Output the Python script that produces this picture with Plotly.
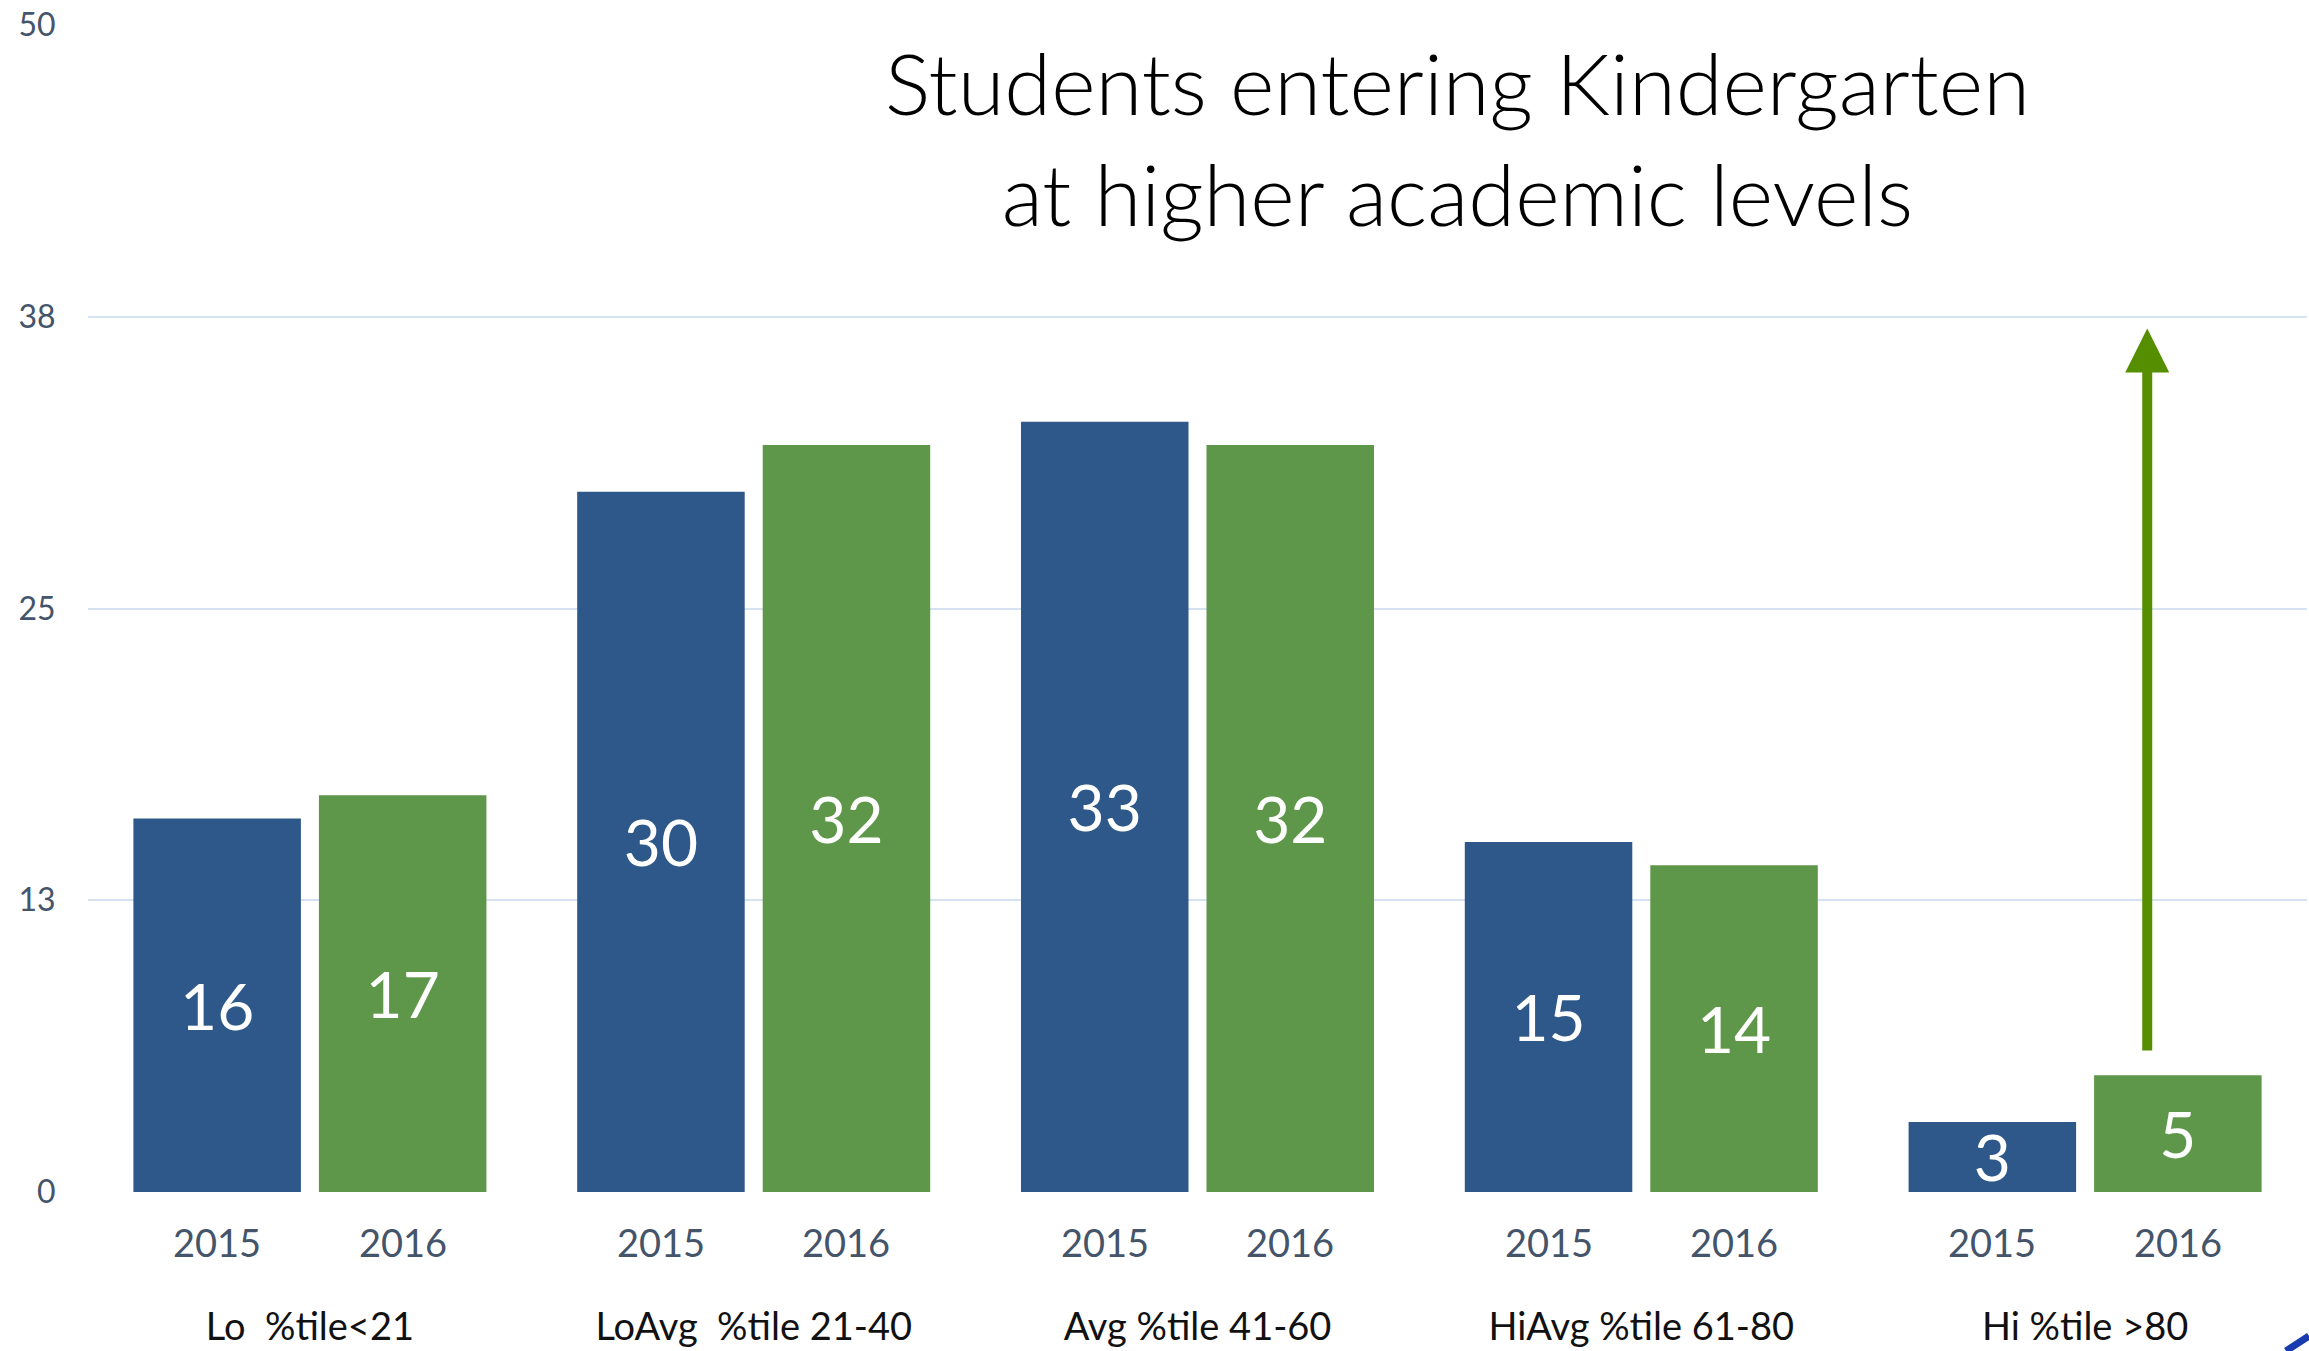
import plotly.graph_objects as go

categories = ["Lo  %tile<21", "LoAvg  %tile 21-40", "Avg %tile 41-60", "HiAvg %tile 61-80", "Hi %tile >80"]
years = ["2015", "2016"]
values_2015 = [16, 30, 33, 15, 3]
values_2016 = [17, 32, 32, 14, 5]
y_tickvals = [0, 12.5, 25, 37.5, 50]
y_ticktext = ["0", "13", "25", "38", "50"]
title_text = "Students entering Kindergarten<br>at higher academic levels"
arrow_from, arrow_to = 6.0, 37.0

BLUE = "#2E5889"
GREEN = "#5E9749"
ARROW = "#558F00"
AXIS_TXT = "#44546A"
FONT = "Lato"

idx = list(range(len(categories)))
fig = go.Figure()
for name, vals, col in [(years[0], values_2015, BLUE), (years[1], values_2016, GREEN)]:
    fig.add_trace(go.Bar(
        x=idx, y=vals, name=name, marker=dict(color=col, line=dict(width=0)),
        text=[str(v) for v in vals], textposition="inside", insidetextanchor="middle",
        constraintext="none", textangle=0,
        textfont=dict(family=FONT, size=64, color="white"),
        hoverinfo="skip",
    ))

bargap = 0.164
fig.update_layout(
    width=2309, height=1351,
    margin=dict(l=88, r=2, t=25, b=159),
    paper_bgcolor="white", plot_bgcolor="white",
    barmode="group", bargap=bargap, bargroupgap=0.097,
    showlegend=False,
    font=dict(family=FONT, color=AXIS_TXT),
)
fig.update_xaxes(
    tickmode="array", tickvals=idx, ticktext=categories,
    range=[-0.5, len(categories) - 0.5],
    showgrid=False, zeroline=False, showline=False, automargin=False,
    ticks="outside", ticklen=101, tickcolor="rgba(0,0,0,0)",
    tickfont=dict(family=FONT, size=38, color="#111111"),
)
fig.update_yaxes(
    range=[0, 50], tickmode="array", tickvals=y_tickvals, ticktext=y_ticktext,
    showgrid=True, gridcolor="#D5E2F2", gridwidth=2,
    zeroline=False, showline=False, automargin=False,
    ticks="outside", ticklen=25, tickcolor="rgba(0,0,0,0)",
    tickfont=dict(family=FONT, size=32, color=AXIS_TXT),
)

# year labels under each bar
plot_w = 2309 - 88 - 2
slot = plot_w / len(categories) * (1 - bargap) / 2
for i in idx:
    for j, yr in enumerate(years):
        fig.add_annotation(
            x=i, xref="x", y=-0.0428, yref="paper", text=yr, showarrow=False,
            xshift=(j - 0.5) * slot, yanchor="middle", xanchor="center",
            font=dict(family=FONT, size=38, color=AXIS_TXT),
        )

# title
fig.add_annotation(
    x=0.617, y=0.9036, xref="paper", yref="paper", text=title_text, showarrow=False,
    xanchor="center", yanchor="middle",
    font=dict(family=FONT, size=85, color="#000000", weight=300),
)

# green arrow
fig.add_annotation(
    x=4.14, y=arrow_to, xref="x", yref="y",
    ax=4.14, ay=arrow_from, axref="x", ayref="y",
    text="", showarrow=True, arrowhead=2, arrowsize=0.88, arrowwidth=10,
    arrowcolor=ARROW,
)

# small cropped blue stroke at bottom-right corner
fig.add_shape(type="line", xref="paper", yref="paper",
              x0=(2286 - 88) / plot_w, y0=(1192 - 1351) / 1167,
              x1=(2309 - 88) / plot_w, y1=(1192 - 1336) / 1167,
              line=dict(color="#1A3BB0", width=7))

fig.write_html("out.html", config={"displayModeBar": False},
               post_script="document.body.style.margin='0';document.body.style.overflow='hidden';")
